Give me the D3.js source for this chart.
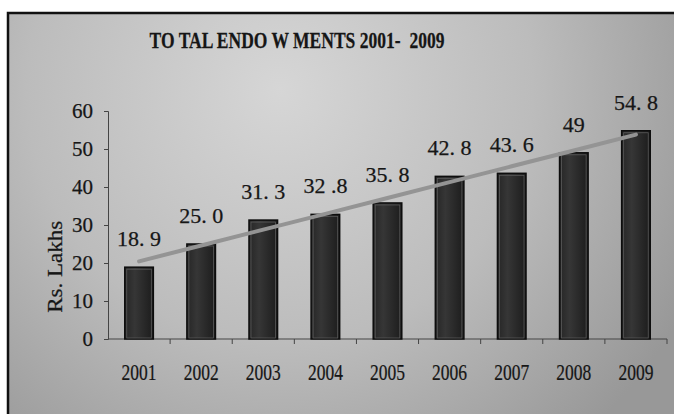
<!DOCTYPE html>
<html>
<head>
<meta charset="utf-8">
<script src="https://cdn.jsdelivr.net/npm/d3@7"></script>
<style>
  body { margin: 0; background: #fff; overflow: hidden; }
  svg { display: block; }
  text { font-family: "Liberation Serif", "Times New Roman", serif; fill: #161616; stroke: #161616; stroke-width: 0.25; }
</style>
</head>
<body>
<div id="chart"></div>
<script>
// data
const years = ["2001", "2002", "2003", "2004", "2005", "2006", "2007", "2008", "2009"];
const endowments = [18.9, 25.0, 31.3, 32.8, 35.8, 42.8, 43.6, 49, 54.8];
const valueLabels = ["18. 9", "25. 0", "31. 3", "32 .8", "35. 8", "42. 8", "43. 6", "49", "54. 8"];
const yTicks = [0, 10, 20, 30, 40, 50, 60];
const title = "TO TAL ENDO W MENTS 2001-  2009";

const width = 674, height = 414;
const margin = {top: 111, right: 7, bottom: 75, left: 108};

const svg = d3.select("#chart").append("svg")
    .attr("width", width)
    .attr("height", height);

let defs = svg.append("defs");

// scanned-paper gray, lighter top middle
let bg = defs.append("radialGradient")
    .attr("id", "bg")
    .attr("gradientUnits", "userSpaceOnUse")
    .attr("cx", 280).attr("cy", 90).attr("r", 460);
bg.append("stop").attr("offset", "0%").attr("stop-color", "#d6d6d6");
bg.append("stop").attr("offset", "55%").attr("stop-color", "#bcbcbc");
bg.append("stop").attr("offset", "100%").attr("stop-color", "#989898");

let barGrad = defs.append("linearGradient")
    .attr("id", "barGrad")
    .attr("x1", "0%").attr("x2", "100%");
barGrad.append("stop").attr("offset", "0%").attr("stop-color", "#262626");
barGrad.append("stop").attr("offset", "35%").attr("stop-color", "#363636");
barGrad.append("stop").attr("offset", "100%").attr("stop-color", "#1c1c1c");

// frame (only top and left edges are inside the scan)
svg.append("rect")
    .attr("x", 8).attr("y", 13)
    .attr("width", width + 20).attr("height", height)
    .attr("fill", "url(#bg)");
svg.append("path")
    .attr("d", `M8,${height + 5} L8,13 L${width + 5},13`)
    .attr("fill", "none")
    .attr("stroke", "#111")
    .attr("stroke-width", 2.5);

// squeeze a text horizontally so it spans w pixels (the scan is condensed)
function fitWidth(sel, w) {
    sel.each(function () {
        let t = d3.select(this);
        let natural = this.getComputedTextLength();
        let sx = w / natural;
        let x0 = +t.attr("x"), y0 = +t.attr("y");
        t.attr("x", 0).attr("y", 0)
            .attr("transform", `translate(${x0},${y0}) scale(${sx},1)`);
    });
}

svg.append("text")
    .attr("x", 297)
    .attr("y", 48)
    .attr("text-anchor", "middle")
    .attr("xml:space", "preserve")
    .style("font-size", "23px")
    .style("font-weight", "bold")
    .text(title)
    .call(fitWidth, 295);

const x = d3.scaleBand()
    .domain(years)
    .range([margin.left, width - margin.right])
    .paddingInner(0.54)
    .paddingOuter(0.27);

const y = d3.scaleLinear()
    .domain([0, 60])
    .range([height - margin.bottom, margin.top]);

// y axis
let yAxis = svg.append("g")
    .attr("transform", `translate(${margin.left},0)`)
    .call(d3.axisLeft(y).tickValues(yTicks).tickSize(4).tickPadding(11));
yAxis.select(".domain").attr("stroke", "#444");
yAxis.selectAll(".tick line").attr("stroke", "#444");
yAxis.selectAll("text")
    .style("font-size", "21px")
    .attr("fill", "#161616");

svg.append("text")
    .attr("x", 62)
    .attr("y", y(19))
    .attr("text-anchor", "middle")
    .style("font-size", "22px")
    .text("Rs. Lakhs")
    .call(fitWidth, 92)
    .attr("transform", function () {
        return d3.select(this).attr("transform").replace("scale", "rotate(-90) scale");
    });

// x axis: ticks sit between categories
const xBase = y(0);
svg.append("line")
    .attr("x1", margin.left).attr("x2", width - margin.right)
    .attr("y1", xBase).attr("y2", xBase)
    .attr("stroke", "#444").attr("stroke-width", 1);

let step = x.step();
svg.selectAll(".xtick")
    .data(years)
    .enter()
    .append("line")
    .attr("class", "xtick")
    .attr("x1", d => x(d) + x.bandwidth() / 2 + step / 2)
    .attr("x2", d => x(d) + x.bandwidth() / 2 + step / 2)
    .attr("y1", xBase)
    .attr("y2", xBase + 5)
    .attr("stroke", "#444");

svg.selectAll(".xlabel")
    .data(years)
    .enter()
    .append("text")
    .attr("class", "xlabel")
    .attr("x", d => x(d) + x.bandwidth() / 2)
    .attr("y", xBase + 41)
    .attr("text-anchor", "middle")
    .style("font-size", "24px")
    .text(d => d)
    .call(fitWidth, 35);

// bars
svg.selectAll(".bar")
    .data(endowments)
    .enter()
    .append("rect")
    .attr("class", "bar")
    .attr("x", (d, i) => x(years[i]))
    .attr("y", d => y(d))
    .attr("width", x.bandwidth())
    .attr("height", d => xBase - y(d))
    .attr("fill", "url(#barGrad)")
    .attr("stroke", "#0d0d0d")
    .attr("stroke-width", 1.5);

svg.selectAll(".barEdge")
    .data(endowments)
    .enter()
    .append("rect")
    .attr("class", "barEdge")
    .attr("x", (d, i) => x(years[i]) + 2)
    .attr("y", d => y(d) + 2)
    .attr("width", x.bandwidth() - 4)
    .attr("height", d => xBase - y(d) - 3)
    .attr("fill", "none")
    .attr("stroke", "#5a5a5a")
    .attr("stroke-width", 0.8);

// linear trend line through the bar values
let n = endowments.length;
let mx = (n - 1) / 2;
let my = d3.mean(endowments);
let slope = d3.sum(endowments, (v, i) => (i - mx) * (v - my)) / d3.sum(endowments, (v, i) => (i - mx) * (i - mx));
let trend = years.map((yr, i) => ({year: yr, value: my + slope * (i - mx)}));

svg.append("path")
    .datum(trend)
    .attr("fill", "none")
    .attr("stroke", "#949494")
    .attr("stroke-width", 4)
    .attr("stroke-linecap", "round")
    .attr("d", d3.line()
        .x(d => x(d.year) + x.bandwidth() / 2)
        .y(d => y(d.value)));

// value labels
svg.selectAll(".vlabel")
    .data(endowments)
    .enter()
    .append("text")
    .attr("class", "vlabel")
    .attr("x", (d, i) => x(years[i]) + x.bandwidth() / 2)
    .attr("y", d => y(d) - 21)
    .attr("text-anchor", "middle")
    .attr("xml:space", "preserve")
    .style("font-size", "22px")
    .text((d, i) => valueLabels[i]);
</script>
</body>
</html>
